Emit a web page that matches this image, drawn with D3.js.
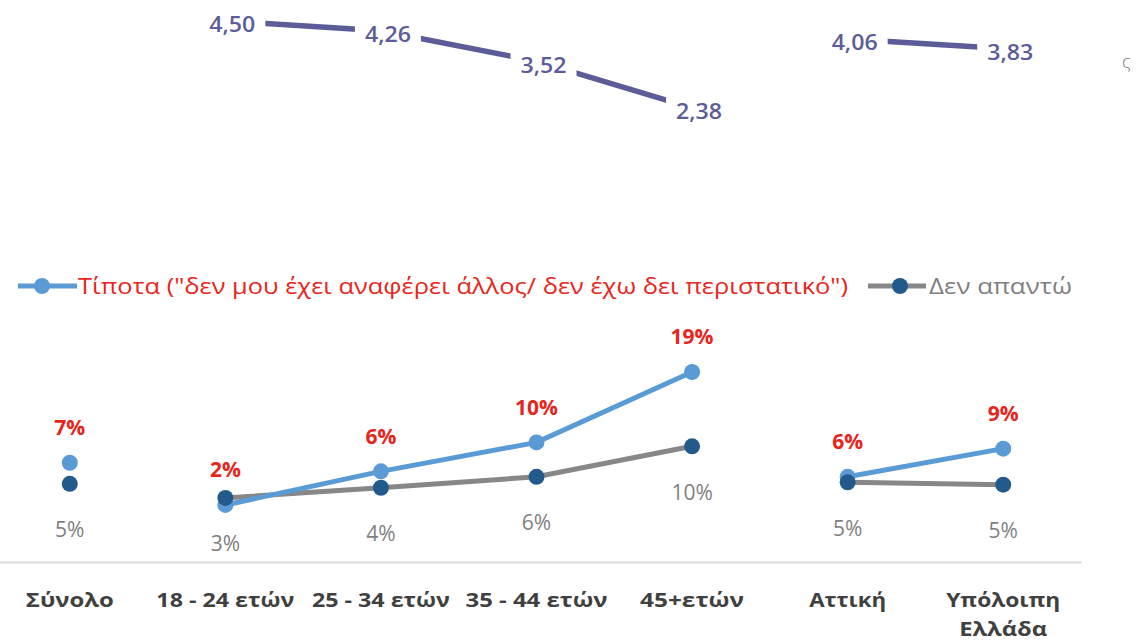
<!DOCTYPE html>
<html><head><meta charset="utf-8">
<script src="https://cdn.jsdelivr.net/npm/d3@7"></script>
<style>html,body{margin:0;padding:0;background:#fff;overflow:hidden}</style>
</head><body>
<svg id="c" width="1139" height="641"></svg>
<script>
const categories = ["Σύνολο","18 - 24 ετών","25 - 34 ετών","35 - 44 ετών","45+ετών","Αττική","Υπόλοιπη Ελλάδα"];
const groups = [0,1,1,1,1,2,2];
const scoreValues = [null,4.50,4.26,3.52,2.38,4.06,3.83];
const nothingValues = [7.4,2.0,6.3,10.0,19.0,5.6,9.2];
const noAnswerValues = [4.7,2.9,4.2,5.6,9.5,4.9,4.6];
const legendLabels = ['Τίποτα ("δεν μου έχει αναφέρει άλλος/ δεν έχω δει περιστατικό")','Δεν απαντώ'];

const FONT = "'Open Sans', 'Noto Sans', sans-serif";
const svg = d3.select("#c");
const x = d3.scaleBand().domain(categories).range([-8,1081]);
const cx = c => x(c) + x.bandwidth()/2;
const yTop = d3.scaleLinear().domain([2,5]).range([123.5,0.5]);
const y = d3.scaleLinear().domain([0,20]).range([520.6,364.2]);

const C = {purple:"#5b5c98", light:"#5b9bd5", dark:"#235a8c", gray:"#878787", red:"#e8251c", grayText:"#7f7f7f", cat:"#404040"};

function segments(vals){
  const segs=[]; let cur=[];
  vals.forEach((v,i)=>{
    if(v==null){ if(cur.length) segs.push(cur); cur=[]; return; }
    if(cur.length && groups[cur[cur.length-1].i]!==groups[i]){ segs.push(cur); cur=[]; }
    cur.push({i, v, c:categories[i]});
  });
  if(cur.length) segs.push(cur);
  return segs;
}

// top purple line
const lineTop = d3.line().x(d=>cx(d.c)).y(d=>yTop(d.v));
segments(scoreValues).forEach(s=>{
  svg.append("path").attr("d",lineTop(s)).attr("fill","none").attr("stroke",C.purple).attr("stroke-width",5.5);
});
const topPts = scoreValues.map((v,i)=>({v,i,c:categories[i]})).filter(d=>d.v!=null);
const tg = svg.append("g");
tg.selectAll("rect").data(topPts).join("rect")
  .attr("x",d=>cx(d.c)+7-33).attr("y",d=>yTop(d.v)+4-15).attr("width",66).attr("height",30).attr("fill","#fff");
tg.selectAll("text").data(topPts).join("text")
  .attr("x",d=>cx(d.c)+7).attr("y",d=>yTop(d.v)+4).attr("dy","0.35em")
  .attr("text-anchor","middle").attr("font-family",FONT).attr("font-size",21).attr("font-weight",600)
  .attr("fill",C.purple).attr("textLength",46).attr("lengthAdjust","spacingAndGlyphs")
  .text(d=>d.v.toFixed(2).replace(".",","));

svg.append("text").attr("x",1122).attr("y",62).attr("dy","0.35em").attr("font-family",FONT)
  .attr("font-size",18).attr("font-weight",300).attr("fill","#777").text("ς");

// legend
const lg = svg.append("g");
lg.append("line").attr("x1",18).attr("x2",77).attr("y1",286).attr("y2",286).attr("stroke",C.light).attr("stroke-width",5);
lg.append("circle").attr("cx",42).attr("cy",286).attr("r",8).attr("fill",C.light);
lg.append("text").attr("x",78).attr("y",287).attr("dy","0.35em").attr("font-family",FONT).attr("font-size",21)
  .attr("font-weight",500).attr("fill",C.red).attr("textLength",770).attr("lengthAdjust","spacingAndGlyphs").text(legendLabels[0]);
lg.append("line").attr("x1",868).attr("x2",926).attr("y1",286).attr("y2",286).attr("stroke",C.gray).attr("stroke-width",5);
lg.append("circle").attr("cx",900).attr("cy",286).attr("r",8).attr("fill",C.dark);
lg.append("text").attr("x",929).attr("y",287).attr("dy","0.35em").attr("font-family",FONT).attr("font-size",21)
  .attr("fill",C.grayText).attr("textLength",143).attr("lengthAdjust","spacingAndGlyphs").text(legendLabels[1]);

// baseline axis
const axis = d3.axisBottom(x).tickSize(0).tickFormat("");
const ag = svg.append("g").attr("transform","translate(0,562)").call(axis);
ag.select(".domain").attr("stroke","#d9d9d9").attr("stroke-width",2);

// bottom lines
const line = d3.line().x(d=>cx(d.c)).y(d=>y(d.v));
segments(noAnswerValues).forEach(s=>{
  svg.append("path").attr("d",line(s)).attr("fill","none").attr("stroke",C.gray).attr("stroke-width",5);
});
segments(nothingValues).forEach(s=>{
  svg.append("path").attr("d",line(s)).attr("fill","none").attr("stroke",C.light).attr("stroke-width",5);
});
const nPts = nothingValues.map((v,i)=>({v,c:categories[i]}));
const aPts = noAnswerValues.map((v,i)=>({v,c:categories[i]}));
svg.append("g").selectAll("circle").data(nPts).join("circle")
  .attr("cx",d=>cx(d.c)).attr("cy",d=>y(d.v)).attr("r",8).attr("fill",C.light);
svg.append("g").selectAll("circle").data(aPts).join("circle")
  .attr("cx",d=>cx(d.c)).attr("cy",d=>y(d.v)).attr("r",8).attr("fill",C.dark);

svg.append("g").selectAll("text").data(nPts).join("text")
  .attr("x",d=>cx(d.c)).attr("y",d=>y(d.v)-35).attr("dy","0.35em").attr("text-anchor","middle")
  .attr("font-family",FONT).attr("font-size",21).attr("font-weight",700).attr("fill",C.red)
  .text(d=>Math.round(d.v)+"%");
svg.append("g").selectAll("text").data(aPts).join("text")
  .attr("x",d=>cx(d.c)).attr("y",d=>y(d.v)+46).attr("dy","0.35em").attr("text-anchor","middle")
  .attr("font-family",FONT).attr("font-size",21).attr("font-weight",500).attr("fill",C.grayText)
  .text(d=>Math.round(d.v)+"%");

// category labels
const catWidths = {"Σύνολο":[88],"18 - 24 ετών":[138],"25 - 34 ετών":[138],"35 - 44 ετών":[142],"45+ετών":[104],"Αττική":[77],"Υπόλοιπη Ελλάδα":[114,88]};
const cg = svg.append("g");
categories.forEach(c=>{
  const parts = c==="Υπόλοιπη Ελλάδα" ? ["Υπόλοιπη","Ελλάδα"] : [c];
  parts.forEach((p,j)=>{
    cg.append("text").attr("x",cx(c)).attr("y",600+j*29).attr("dy","0.35em").attr("text-anchor","middle")
      .attr("font-family",FONT).attr("font-size",20).attr("font-weight",700).attr("fill",C.cat)
      .attr("textLength",catWidths[c][j]).attr("lengthAdjust","spacingAndGlyphs").text(p);
  });
});
</script>
</body></html>
